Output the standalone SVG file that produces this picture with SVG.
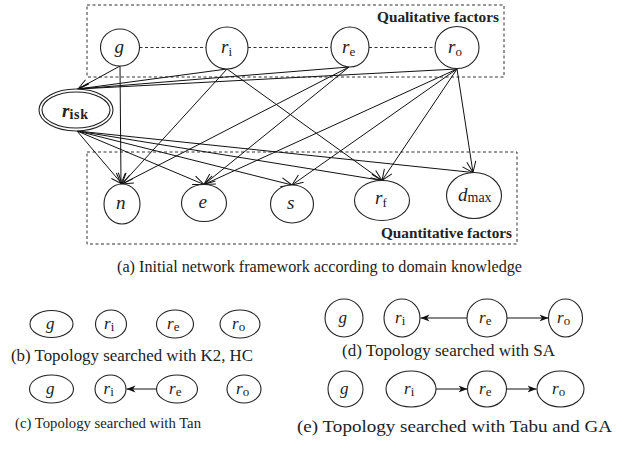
<svg xmlns="http://www.w3.org/2000/svg" width="626" height="457" viewBox="0 0 626 457">
<style>
.nd{fill:#fff;stroke:#222;stroke-width:1.1}
.box{fill:none;stroke:#333;stroke-width:1;stroke-dasharray:3,2.5}
.ed{fill:none;stroke:#111;stroke-width:1}
.v{font-family:"Liberation Serif",serif;font-style:italic;font-size:19px;fill:#222}
.sb{font-family:"Liberation Serif",serif;font-style:normal;font-size:13px;fill:#222}
.bt{font-family:"Liberation Serif",serif;font-weight:bold;font-size:15px;fill:#222}
.cap{font-family:"Liberation Serif",serif;font-size:16px;fill:#222}
</style>
<defs>
<marker id="ah" markerUnits="userSpaceOnUse" markerWidth="14" markerHeight="12" refX="12" refY="6" orient="auto">
<path d="M1,1.5 L12,6 L1,10.5" fill="none" stroke="#111" stroke-width="1"/>
</marker>
<marker id="sh" markerUnits="userSpaceOnUse" markerWidth="10" markerHeight="8" refX="9" refY="4" orient="auto">
<path d="M0,0.5 L9,4 L0,7.5 L2.5,4 z" fill="#111"/>
</marker>
</defs>

<!-- panel (a) frames -->
<g id="qual-box">
<rect class="box" x="87" y="5" width="417" height="72"/>
<text class="bt" x="377" y="22" textLength="122" lengthAdjust="spacingAndGlyphs">Qualitative factors</text>
</g>
<g id="quant-box">
<rect class="box" x="87" y="152" width="430" height="92"/>
<text class="bt" x="381" y="238" textLength="131" lengthAdjust="spacingAndGlyphs">Quantitative factors</text>
</g>

<g id="connectors">
<line class="box" x1="139.5" y1="47.5" x2="206" y2="47.5"/>
<line class="box" x1="248" y1="47.5" x2="331" y2="47.5"/>
<line class="box" x1="369" y1="47.5" x2="435" y2="47.5"/>
<!-- into r_isk -->
<line class="ed" x1="120" y1="66" x2="78" y2="89" marker-end="url(#ah)"/>
<line class="ed" x1="227" y1="69" x2="78" y2="89" marker-end="url(#ah)"/>
<line class="ed" x1="349" y1="67" x2="78" y2="89" marker-end="url(#ah)"/>
<line class="ed" x1="457" y1="69" x2="78" y2="89" marker-end="url(#ah)"/>
<!-- g -->
<line class="ed" x1="120" y1="66" x2="121" y2="184" marker-end="url(#ah)"/>
<!-- r_i -->
<line class="ed" x1="227" y1="69" x2="122" y2="184" marker-end="url(#ah)"/>
<line class="ed" x1="227" y1="69" x2="382" y2="180.5" marker-end="url(#ah)"/>
<!-- r_e -->
<line class="ed" x1="349" y1="67" x2="122" y2="184" marker-end="url(#ah)"/>
<line class="ed" x1="349" y1="67" x2="204" y2="184.5" marker-end="url(#ah)"/>
<!-- r_o -->
<line class="ed" x1="457" y1="69" x2="204" y2="184.5" marker-end="url(#ah)"/>
<line class="ed" x1="457" y1="69" x2="292" y2="185" marker-end="url(#ah)"/>
<line class="ed" x1="457" y1="69" x2="382" y2="180.5" marker-end="url(#ah)"/>
<line class="ed" x1="457" y1="69" x2="473" y2="172.5" marker-end="url(#ah)"/>
<!-- r_isk out -->
<line class="ed" x1="77" y1="131" x2="122" y2="184" marker-end="url(#ah)"/>
<line class="ed" x1="77" y1="131" x2="204" y2="184.5" marker-end="url(#ah)"/>
<line class="ed" x1="77" y1="131" x2="292" y2="185" marker-end="url(#ah)"/>
<line class="ed" x1="77" y1="131" x2="382" y2="180.5" marker-end="url(#ah)"/>
<line class="ed" x1="77" y1="131" x2="473" y2="172.5" marker-end="url(#ah)"/>
<!-- panel c -->
<line class="ed" x1="156" y1="389" x2="126.5" y2="389" marker-end="url(#sh)"/>
<!-- panel d -->
<line class="ed" x1="467" y1="318" x2="420.5" y2="318" marker-end="url(#sh)"/>
<line class="ed" x1="507" y1="318" x2="548.5" y2="318" marker-end="url(#sh)"/>
<!-- panel e -->
<line class="ed" x1="436" y1="389" x2="467.5" y2="389" marker-end="url(#sh)"/>
<line class="ed" x1="507" y1="389" x2="536.5" y2="389" marker-end="url(#sh)"/>
</g>

<!-- panel (a) nodes -->
<g id="a-g"><ellipse class="nd" cx="120" cy="47.5" rx="19.5" ry="18.5"/><text class="v" x="114.5" y="53">g</text></g>
<g id="a-ri"><ellipse class="nd" cx="227" cy="48" rx="21" ry="21"/><text class="v" x="221" y="53">r<tspan class="sb" dy="3">i</tspan></text></g>
<g id="a-re"><ellipse class="nd" cx="350" cy="47" rx="19" ry="20"/><text class="v" x="342" y="53">r<tspan class="sb" dy="3">e</tspan></text></g>
<g id="a-ro"><ellipse class="nd" cx="457" cy="47.5" rx="22" ry="21"/><text class="v" x="448" y="53">r<tspan class="sb" dy="3">o</tspan></text></g>
<g id="a-risk">
<ellipse class="nd" cx="76" cy="110" rx="37" ry="21"/>
<ellipse fill="none" stroke="#222" stroke-width="1.1" cx="76" cy="110" rx="34" ry="18"/>
<text class="v" x="62" y="117" style="font-weight:bold">r<tspan class="sb" style="font-weight:bold;font-size:14px;letter-spacing:0.8px" dy="2">isk</tspan></text>
</g>
<g id="a-n"><ellipse class="nd" cx="122" cy="204" rx="18" ry="20"/><text class="v" x="116" y="209">n</text></g>
<g id="a-e"><ellipse class="nd" cx="204" cy="203" rx="22.5" ry="18.5"/><text class="v" x="198.5" y="208">e</text></g>
<g id="a-s"><ellipse class="nd" cx="292" cy="204" rx="21.5" ry="19"/><text class="v" x="287" y="209">s</text></g>
<g id="a-rf"><ellipse class="nd" cx="382" cy="200.5" rx="27.5" ry="20"/><text class="v" x="375" y="204">r<tspan class="sb" dy="3">f</tspan></text></g>
<g id="a-dmax"><ellipse class="nd" cx="474" cy="195.5" rx="27.5" ry="23"/><text class="v" x="458" y="201">d<tspan class="sb" style="font-size:14px" dy="1">max</tspan></text></g>
<text class="cap" x="117" y="272" style="font-size:16.3px" textLength="405" lengthAdjust="spacingAndGlyphs">(a) Initial network framework according to domain knowledge</text>

<!-- panel (b) -->
<g id="b-g"><ellipse class="nd" cx="51.5" cy="324" rx="21.5" ry="13.5"/><text class="v" x="46" y="329" style="font-size:17px">g</text></g>
<g id="b-ri"><ellipse class="nd" cx="111" cy="324" rx="15.5" ry="14"/><text class="v" x="104" y="329" style="font-size:17px">r<tspan class="sb" dy="2">i</tspan></text></g>
<g id="b-re"><ellipse class="nd" cx="175" cy="324" rx="18.5" ry="14"/><text class="v" x="167" y="329" style="font-size:17px">r<tspan class="sb" dy="2">e</tspan></text></g>
<g id="b-ro"><ellipse class="nd" cx="240" cy="324" rx="20" ry="14"/><text class="v" x="232" y="329" style="font-size:17px">r<tspan class="sb" dy="2">o</tspan></text></g>
<text class="cap" x="11" y="361" style="font-size:16.7px" textLength="242" lengthAdjust="spacingAndGlyphs">(b)  Topology searched with K2, HC</text>

<!-- panel (c) -->
<g id="c-g"><ellipse class="nd" cx="51.5" cy="389" rx="22" ry="14"/><text class="v" x="46" y="394" style="font-size:17px">g</text></g>
<g id="c-ri"><ellipse class="nd" cx="110.5" cy="389" rx="15.5" ry="14"/><text class="v" x="103.5" y="394" style="font-size:17px">r<tspan class="sb" dy="2">i</tspan></text></g>
<g id="c-re"><ellipse class="nd" cx="177" cy="389" rx="20.5" ry="14"/><text class="v" x="169" y="394" style="font-size:17px">r<tspan class="sb" dy="2">e</tspan></text></g>
<g id="c-ro"><ellipse class="nd" cx="244" cy="389" rx="17" ry="14"/><text class="v" x="236" y="394" style="font-size:17px">r<tspan class="sb" dy="2">o</tspan></text></g>
<text class="cap" x="15" y="428" style="font-size:14.8px" textLength="186" lengthAdjust="spacingAndGlyphs">(c)  Topology searched with Tan</text>

<!-- panel (d) -->
<g id="d-g"><ellipse class="nd" cx="344" cy="318" rx="19" ry="19"/><text class="v" x="338.5" y="323" style="font-size:17px">g</text></g>
<g id="d-ri"><ellipse class="nd" cx="402" cy="318" rx="18" ry="19"/><text class="v" x="395" y="323" style="font-size:17px">r<tspan class="sb" dy="2">i</tspan></text></g>
<g id="d-re"><ellipse class="nd" cx="487" cy="318" rx="20" ry="19"/><text class="v" x="479" y="323" style="font-size:17px">r<tspan class="sb" dy="2">e</tspan></text></g>
<g id="d-ro"><ellipse class="nd" cx="565.5" cy="318" rx="17" ry="19"/><text class="v" x="557" y="323" style="font-size:17px">r<tspan class="sb" dy="2">o</tspan></text></g>
<text class="cap" x="342" y="356" style="font-size:17px" textLength="213" lengthAdjust="spacingAndGlyphs">(d)  Topology searched with SA</text>

<!-- panel (e) -->
<g id="e-g"><ellipse class="nd" cx="345.5" cy="389" rx="17.5" ry="18"/><text class="v" x="340" y="394" style="font-size:17px">g</text></g>
<g id="e-ri"><ellipse class="nd" cx="411" cy="389" rx="25" ry="18"/><text class="v" x="404" y="394" style="font-size:17px">r<tspan class="sb" dy="2">i</tspan></text></g>
<g id="e-re"><ellipse class="nd" cx="487" cy="389" rx="19.5" ry="18"/><text class="v" x="479" y="394" style="font-size:17px">r<tspan class="sb" dy="2">e</tspan></text></g>
<g id="e-ro"><ellipse class="nd" cx="560.5" cy="389" rx="23.5" ry="18"/><text class="v" x="552" y="394" style="font-size:17px">r<tspan class="sb" dy="2">o</tspan></text></g>
<text class="cap" x="297" y="432" style="font-size:17.5px" textLength="315" lengthAdjust="spacingAndGlyphs">(e)  Topology searched with Tabu and GA</text>
</svg>
